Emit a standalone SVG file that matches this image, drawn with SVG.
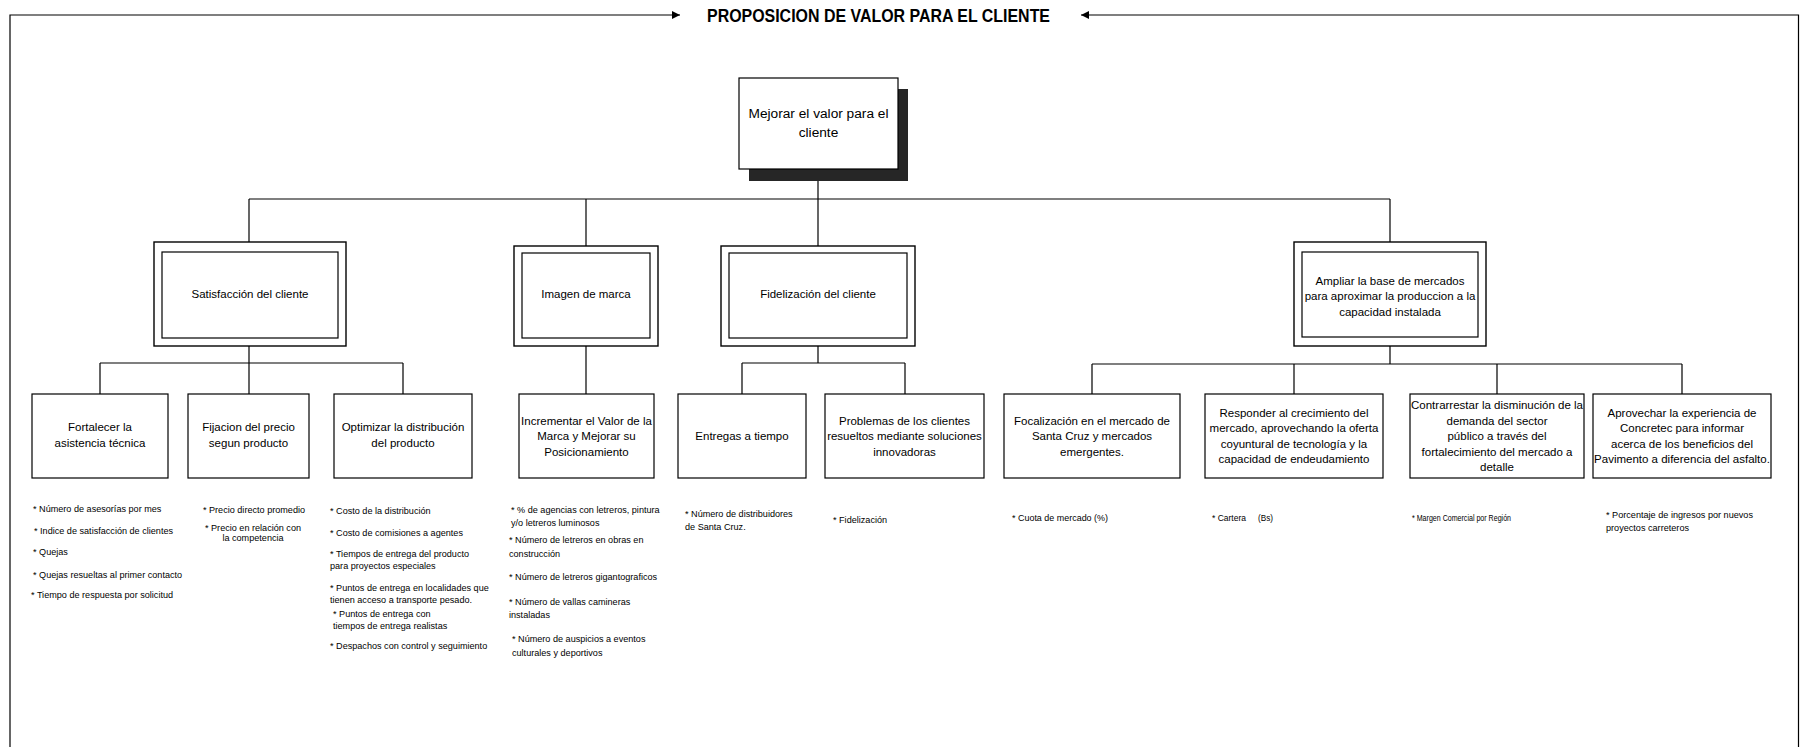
<svg xmlns="http://www.w3.org/2000/svg" width="1800" height="747" viewBox="0 0 1800 747">
<style>
.box{fill:#fff;stroke:#000;stroke-width:1.2}
.ob{fill:#fff;stroke:#000;stroke-width:1.4}
.t{font-family:"Liberation Sans",Arial,sans-serif;font-size:11.5px;text-anchor:middle;fill:#000}
.m{font-family:"Liberation Sans",Arial,sans-serif;font-size:9.1px;fill:#000}
.c path{stroke:#000;stroke-width:1.2;fill:none}
.f path{stroke:#000;stroke-width:1.2;fill:none}
</style>
<defs>
<marker id="ah" markerUnits="userSpaceOnUse" markerWidth="9" markerHeight="9" refX="8" refY="4" orient="auto">
<path d="M0,0 L8,4 L0,8 z" fill="#000"/>
</marker>
</defs>
<rect x="0" y="0" width="1800" height="747" fill="#fff"/>
<g id="frame" class="f">
<path d="M10 747 V15 H680" marker-end="url(#ah)"/>
<path d="M1798.5 747 V15 H1081" marker-end="url(#ah)"/>
<text x="878.5" y="22" textLength="343" lengthAdjust="spacingAndGlyphs" style="font-family:'Liberation Sans',Arial,sans-serif;font-size:19px;font-weight:bold;text-anchor:middle">PROPOSICION DE VALOR PARA EL CLIENTE</text>
</g>
<g id="connectors" class="c">
<path d="M818 181 V199"/>
<path d="M249 199 H1390"/>
<path d="M249 199 V252"/>
<path d="M586 199 V253"/>
<path d="M818 199 V253"/>
<path d="M1390 199 V252"/>
<path d="M249 338 V363 M100 363 H403 M100 363 V394 M249 363 V394 M403 363 V394"/>
<path d="M586 338 V394"/>
<path d="M818 338 V363 M742 363 H905 M742 363 V394 M905 363 V394"/>
<path d="M1390 337 V364 M1092 364 H1682 M1092 364 V394 M1294 364 V394 M1497 364 V394 M1682 364 V394"/>
</g>
<g id="n-main">
<rect x="749" y="89" width="159" height="92" fill="#262626"/>
<rect class="box" x="739" y="78" width="159" height="91"/>
<text class="t" style="font-size:13.7px" x="818.5" y="118">Mejorar el valor para el</text>
<text class="t" style="font-size:13.7px" x="818.5" y="136.5">cliente</text>
</g>
<g id="n-satisfaccion">
<rect class="ob" x="154" y="242" width="192" height="104"/>
<rect class="box" x="162" y="252" width="176" height="86"/>
<text class="t" x="250" y="298">Satisfacción del cliente</text>
</g>
<g id="n-imagen">
<rect class="ob" x="514" y="246" width="144" height="100"/>
<rect class="box" x="522" y="253" width="128" height="85"/>
<text class="t" x="586" y="298">Imagen de marca</text>
</g>
<g id="n-fidelizacion">
<rect class="ob" x="721" y="246" width="194" height="100"/>
<rect class="box" x="729" y="253" width="178" height="85"/>
<text class="t" x="818" y="298">Fidelización del cliente</text>
</g>
<g id="n-ampliar">
<rect class="ob" x="1294" y="242" width="192" height="104"/>
<rect class="box" x="1302" y="252" width="176" height="85"/>
<text class="t" x="1390" y="284.5">Ampliar la base de mercados</text>
<text class="t" x="1390" y="300">para aproximar la produccion a la</text>
<text class="t" x="1390" y="315.5">capacidad instalada</text>
</g>
<g id="n-fortalecer">
<rect class="box" x="32" y="394" width="136" height="84"/>
<text class="t" x="100" y="431">Fortalecer la</text>
<text class="t" x="100" y="447">asistencia técnica</text>
</g>
<g id="n-fijacion">
<rect class="box" x="188" y="394" width="121" height="84"/>
<text class="t" x="248.5" y="431">Fijacion del precio</text>
<text class="t" x="248.5" y="447">segun producto</text>
</g>
<g id="n-optimizar">
<rect class="box" x="334" y="394" width="138" height="84"/>
<text class="t" x="403" y="431">Optimizar la distribución</text>
<text class="t" x="403" y="447">del producto</text>
</g>
<g id="n-incrementar">
<rect class="box" x="519" y="394" width="135" height="84"/>
<text class="t" x="586.5" y="424.5">Incrementar el Valor de la</text>
<text class="t" x="586.5" y="440">Marca y Mejorar su</text>
<text class="t" x="586.5" y="455.5">Posicionamiento</text>
</g>
<g id="n-entregas">
<rect class="box" x="678" y="394" width="128" height="84"/>
<text class="t" x="742" y="440">Entregas a tiempo</text>
</g>
<g id="n-problemas">
<rect class="box" x="825" y="394" width="159" height="84"/>
<text class="t" x="904.5" y="424.5">Problemas de los clientes</text>
<text class="t" x="904.5" y="440">resueltos mediante soluciones</text>
<text class="t" x="904.5" y="455.5">innovadoras</text>
</g>
<g id="n-focalizacion">
<rect class="box" x="1004" y="394" width="176" height="84"/>
<text class="t" x="1092" y="424.5">Focalización en el mercado de</text>
<text class="t" x="1092" y="440">Santa Cruz y mercados</text>
<text class="t" x="1092" y="455.5">emergentes.</text>
</g>
<g id="n-responder">
<rect class="box" x="1205" y="394" width="178" height="84"/>
<text class="t" x="1294" y="416.5">Responder al crecimiento del</text>
<text class="t" x="1294" y="432">mercado, aprovechando la oferta</text>
<text class="t" x="1294" y="447.5">coyuntural de tecnología y la</text>
<text class="t" x="1294" y="463">capacidad de endeudamiento</text>
</g>
<g id="n-contrarrestar">
<rect class="box" x="1410" y="394" width="174" height="84"/>
<text class="t" x="1497" y="409">Contrarrestar la disminución de la</text>
<text class="t" x="1497" y="424.5">demanda del sector</text>
<text class="t" x="1497" y="440">público a través del</text>
<text class="t" x="1497" y="455.5">fortalecimiento del mercado a</text>
<text class="t" x="1497" y="471">detalle</text>
</g>
<g id="n-aprovechar">
<rect class="box" x="1593" y="394" width="178" height="84"/>
<text class="t" x="1682" y="416.5">Aprovechar la experiencia de</text>
<text class="t" x="1682" y="432">Concretec para informar</text>
<text class="t" x="1682" y="447.5">acerca de los beneficios del</text>
<text class="t" x="1682" y="463">Pavimento a diferencia del asfalto.</text>
</g>
<g id="metrics">
<text class="m" x="33" y="511.5">* Número de asesorías por mes</text>
<text class="m" x="34" y="534">* Indice de satisfacción de clientes</text>
<text class="m" x="33" y="554.5">* Quejas</text>
<text class="m" x="33" y="577.5">* Quejas resueltas al primer contacto</text>
<text class="m" x="31" y="597.5">* Tiempo de respuesta por solicitud</text>
<text class="m" x="254" y="513" text-anchor="middle">* Precio directo promedio</text>
<text class="m" x="253" y="531" text-anchor="middle">* Precio en relación con</text>
<text class="m" x="253" y="541" text-anchor="middle">la competencia</text>
<text class="m" x="330" y="514">* Costo de la distribución</text>
<text class="m" x="330" y="535.5">* Costo de comisiones a agentes</text>
<text class="m" x="330" y="557">* Tiempos de entrega del producto</text>
<text class="m" x="330" y="568.5">para proyectos especiales</text>
<text class="m" x="330" y="590.5">* Puntos de entrega en localidades que</text>
<text class="m" x="330" y="602.5">tienen acceso a transporte pesado.</text>
<text class="m" x="333" y="616.5">* Puntos de entrega con</text>
<text class="m" x="333" y="629">tiempos de entrega realistas</text>
<text class="m" x="330" y="648.5">* Despachos con control y seguimiento</text>
<text class="m" x="511" y="512.5">* % de agencias con letreros, pintura</text>
<text class="m" x="511" y="525.5">y/o letreros luminosos</text>
<text class="m" x="509" y="542.5">* Número de letreros en obras en</text>
<text class="m" x="509" y="557">construcción</text>
<text class="m" x="509" y="580">* Número de letreros gigantograficos</text>
<text class="m" x="509" y="605">* Número de vallas camineras</text>
<text class="m" x="509" y="618">instaladas</text>
<text class="m" x="512" y="642">* Número de auspicios a eventos</text>
<text class="m" x="512" y="656">culturales y deportivos</text>
<text class="m" x="685" y="517">* Número de distribuidores</text>
<text class="m" x="685" y="530">de Santa Cruz.</text>
<text class="m" x="833" y="523">* Fidelización</text>
<text class="m" x="1012" y="521" textLength="96" lengthAdjust="spacingAndGlyphs">* Cuota de mercado (%)</text>
<text class="m" x="1212" y="521" textLength="34" lengthAdjust="spacingAndGlyphs">* Cartera</text>
<text class="m" x="1258" y="521" textLength="15" lengthAdjust="spacingAndGlyphs">(Bs)</text>
<text class="m" x="1412" y="521" textLength="99" lengthAdjust="spacingAndGlyphs">* Margen Comercial por Región</text>
<text class="m" x="1606" y="517.5" textLength="147" lengthAdjust="spacingAndGlyphs">* Porcentaje de ingresos por nuevos</text>
<text class="m" x="1606" y="530.5" textLength="83" lengthAdjust="spacingAndGlyphs">proyectos carreteros</text>
</g>
</svg>
